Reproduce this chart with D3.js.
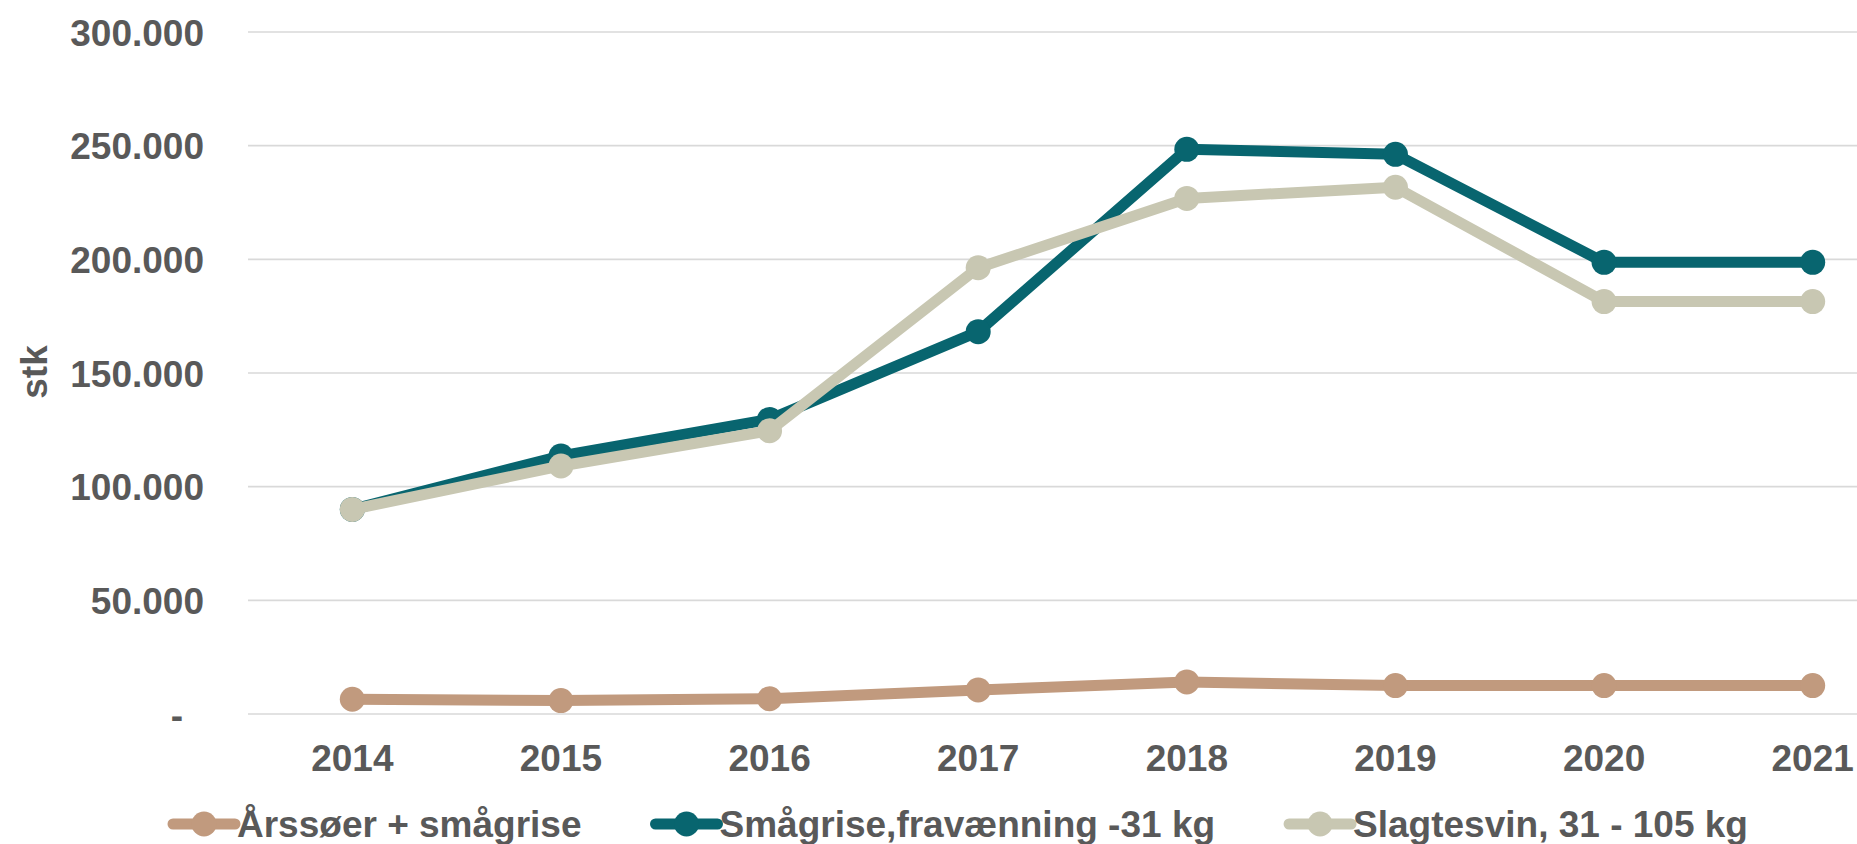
<!DOCTYPE html>
<html>
<head>
<meta charset="utf-8">
<script src="https://cdn.jsdelivr.net/npm/d3@7"></script>
<style>
  html, body { margin: 0; padding: 0; background: #ffffff; overflow: hidden; }
  svg { display: block; }
  text { font-family: "Liberation Sans", Arial, sans-serif; font-weight: bold; fill: #595959; }
</style>
</head>
<body>
<svg id="chart" width="1857" height="844"></svg>
<script>
// ---- Data ----
const years = ["2014", "2015", "2016", "2017", "2018", "2019", "2020", "2021"];
const aarssoer = [6500, 5900, 6700, 10600, 14100, 12500, 12500, 12500];
const smaagrise = [90000, 113500, 129600, 168200, 248400, 246200, 198700, 198700];
const slagtesvin = [90000, 109100, 124600, 196300, 226800, 231700, 181400, 181400];
const seriesNames = ["Årssøer + smågrise", "Smågrise,fravænning -31 kg", "Slagtesvin, 31 - 105 kg"];
const yTicks = [0, 50000, 100000, 150000, 200000, 250000, 300000];
const yTitle = "stk";

// ---- Layout ----
const W = 1857, H = 844;
const plot = { left: 248, right: 1917, top: 32, bottom: 714 };
const colors = ["#C19A7E", "#08656F", "#C8C7B2"];
const fontSize = 37;

const svg = d3.select("#chart");

const x = d3.scaleBand().domain(years).range([plot.left, plot.right]);
const y = d3.scaleLinear().domain([0, 300000]).range([plot.bottom, plot.top]);

const locale = d3.formatLocale({ decimal: ",", thousands: ".", grouping: [3], currency: ["", ""] });
const fmt = locale.format(",d");

// gridlines
svg.append("g").selectAll("line").data(yTicks).join("line")
  .attr("x1", plot.left).attr("x2", W)
  .attr("y1", d => y(d)).attr("y2", d => y(d))
  .attr("stroke", "#D9D9D9").attr("stroke-width", 1.6);

// y axis labels
const yAxis = d3.axisLeft(y).tickValues(yTicks).tickSize(0).tickPadding(0)
  .tickFormat(d => d === 0 ? "-" : fmt(d));
const gy = svg.append("g").attr("transform", `translate(204,0)`).call(yAxis);
gy.select(".domain").remove();
gy.selectAll("text")
  .attr("font-size", fontSize)
  .attr("font-family", null)
  .attr("dy", "0.36em")
  .attr("x", d => d === 0 ? -21 : 0);

// x axis labels
const xAxis = d3.axisBottom(x).tickSize(0).tickPadding(0);
const gx = svg.append("g").attr("transform", `translate(0,${plot.bottom})`).call(xAxis);
gx.select(".domain").remove();
gx.selectAll("text")
  .attr("font-size", fontSize)
  .attr("font-family", null)
  .attr("dy", null)
  .attr("y", 57);

// y title
svg.append("text")
  .attr("transform", `translate(47,${372}) rotate(-90)`)
  .attr("text-anchor", "middle")
  .attr("font-size", fontSize)
  .text(yTitle);

// series
const allSeries = [aarssoer, smaagrise, slagtesvin];
const line = d3.line().x((d, i) => x(years[i]) + x.bandwidth() / 2).y(d => y(d));

allSeries.forEach((vals, si) => {
  const g = svg.append("g");
  g.append("path").datum(vals)
    .attr("d", line)
    .attr("fill", "none")
    .attr("stroke", colors[si])
    .attr("stroke-width", 11)
    .attr("stroke-linejoin", "round");
  g.selectAll("circle").data(vals).join("circle")
    .attr("cx", (d, i) => x(years[i]) + x.bandwidth() / 2)
    .attr("cy", d => y(d))
    .attr("r", 12.5)
    .attr("fill", colors[si]);
});

// legend
const legY = 824;
let cx = 173;
seriesNames.forEach((name, si) => {
  const g = svg.append("g");
  g.append("line")
    .attr("x1", cx).attr("x2", cx + 62)
    .attr("y1", legY).attr("y2", legY)
    .attr("stroke", colors[si]).attr("stroke-width", 11)
    .attr("stroke-linecap", "round");
  g.append("circle").attr("cx", cx + 31).attr("cy", legY).attr("r", 12.5).attr("fill", colors[si]);
  const t = g.append("text")
    .attr("x", cx + 64).attr("y", 837)
    .attr("font-size", fontSize)
    .text(name);
  const w = t.node().getComputedTextLength();
  cx = cx + 64 + w + 74;
});
</script>
</body>
</html>
